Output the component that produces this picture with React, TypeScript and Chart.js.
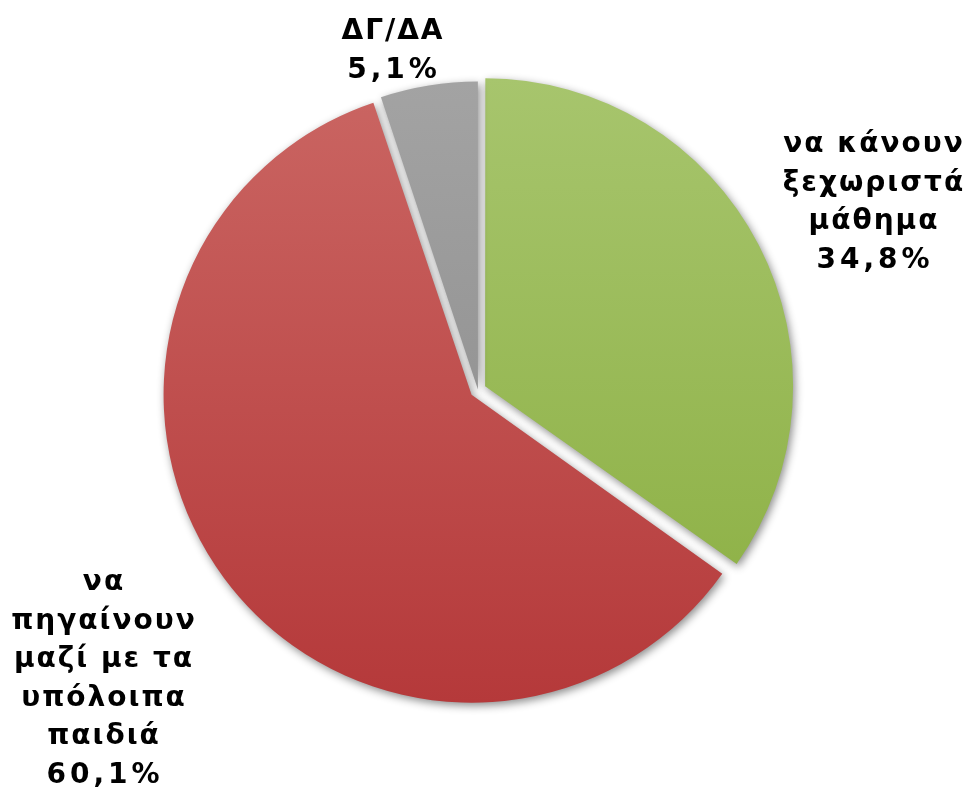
import React, { useEffect, useRef } from "react";
import { Chart, registerables } from "chart.js";

Chart.register(...registerables);

const categories: string[][] = [
  ["να κάνουν", "ξεχωριστά", "μάθημα"],
  ["να", "πηγαίνουν", "μαζί με τα", "υπόλοιπα", "παιδιά"],
  ["ΔΓ/ΔΑ"],
];
const values: number[] = [34.8, 60.1, 5.1];
const valueLabels: string[] = ["34,8%", "60,1%", "5,1%"];

const topColors = ["#a7c56d", "#ca6562", "#a3a3a3"];
const bottomColors = ["#8aae40", "#b5393a", "#878787"];
// explode distance (px) of each slice
const explode = [8, 8, 0.5];
// label anchor (dx, first-baseline dy) relative to pie centre
const labelAnchors: [number, number][] = [
  [395, -238],
  [-375, 200],
  [-86, -351],
];
const LINE_H = 38.6;
const FONT = "bold 28px 'DejaVu Sans'";
const TEXT_SPACING = 2;
const VALUE_SPACING = 4;
const RADIUS = 308;

const shadowPlugin = {
  id: "shadowPlugin",
  beforeDatasetsDraw(chart: any) {
    const meta = chart.getDatasetMeta(0);
    // keep the radius constant even though Chart.js enlarges offset arcs
    meta.data.forEach((arc: any) => {
      const off = (arc.options.offset || 0) / 4;
      const fix = 1 - Math.sin(Math.min(Math.PI, arc.circumference || 0));
      arc.outerRadius = RADIUS - off * fix;
    });
    const ctx = chart.ctx;
    ctx.save();
    ctx.shadowColor = "rgba(0,0,0,0.45)";
    ctx.shadowBlur = 8;
    ctx.shadowOffsetX = 2;
    ctx.shadowOffsetY = 3;
  },
  afterDatasetsDraw(chart: any) {
    chart.ctx.restore();
  },
};

const labelPlugin = {
  id: "labelPlugin",
  afterDraw(chart: any) {
    const ctx = chart.ctx;
    const meta = chart.getDatasetMeta(0);
    ctx.save();
    ctx.font = FONT;
    ctx.fillStyle = "#000000";
    ctx.textAlign = "center";
    ctx.textBaseline = "alphabetic";
    meta.data.forEach((arc: any, i: number) => {
      const lines = [...categories[i], valueLabels[i]];
      const [dx, dy] = labelAnchors[i];
      lines.forEach((ln, j) => {
        const sp = j === lines.length - 1 ? VALUE_SPACING : TEXT_SPACING;
        (ctx as any).letterSpacing = sp + "px";
        ctx.fillText(ln, arc.x + dx + sp / 2, arc.y + dy + j * LINE_H);
      });
    });
    ctx.restore();
  },
};

export default function App() {
  const ref = useRef<HTMLCanvasElement>(null);
  useEffect(() => {
    if (!ref.current) return;
    const chart = new Chart(ref.current, {
      type: "pie",
      data: {
        labels: categories.map((c) => c.join(" ")),
        datasets: [
          {
            data: values,
            backgroundColor: (c: any) => {
              const ch = c.chart;
              const area = ch.chartArea;
              if (!area || !isFinite(area.top) || !isFinite(area.bottom)) return topColors[c.dataIndex];
              const cy = (area.top + area.bottom) / 2;
              const g = ch.ctx.createLinearGradient(0, cy - RADIUS, 0, cy + RADIUS);
              g.addColorStop(0, topColors[c.dataIndex]);
              g.addColorStop(1, bottomColors[c.dataIndex]);
              return g;
            },
            borderWidth: 0,
            offset: explode.map((e) => e * 4),
            radius: RADIUS,
          } as any,
        ],
      },
      options: {
        responsive: false,
        animation: false,
        devicePixelRatio: 1,
        layout: { padding: { left: 0, right: 14, top: 0, bottom: 9 } },
        plugins: {
          legend: { display: false },
          tooltip: { enabled: false },
        },
      },
      plugins: [shadowPlugin, labelPlugin],
    });
    return () => chart.destroy();
  }, []);
  return (
    <div style={{ position: "absolute", left: 0, top: 0, width: 970, height: 789, background: "#fff" }}>
      <canvas ref={ref} width={970} height={789} style={{ width: 970, height: 789 }} />
    </div>
  );
}
